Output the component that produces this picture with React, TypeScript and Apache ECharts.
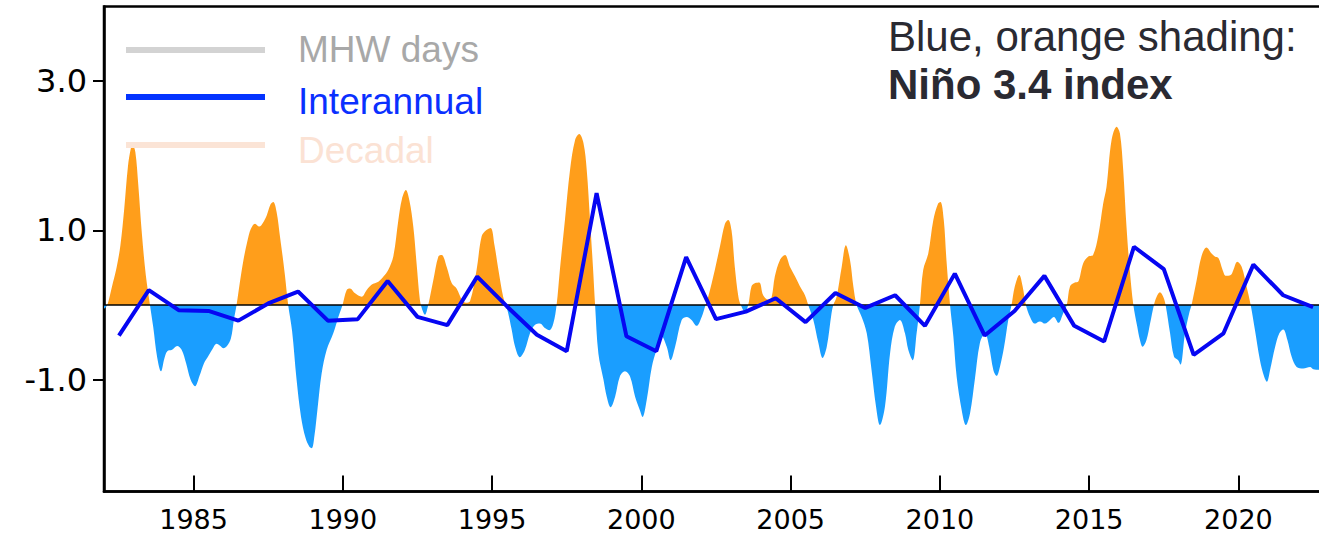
import React, { useEffect, useRef } from "react";
import * as echarts from "echarts";

// Niño 3.4 index, traced as [decimal year, value] vertices
const ninoYears = [
  1982.0, 1982.08, 1982.15, 1982.3, 1982.42, 1982.55, 1982.68, 1982.8, 1982.9, 1982.96,
  1983.05, 1983.15, 1983.27, 1983.4, 1983.54, 1983.65, 1983.78, 1983.91, 1984.02, 1984.12,
  1984.28, 1984.45, 1984.6, 1984.75, 1984.9, 1985.05, 1985.2, 1985.35, 1985.5, 1985.65,
  1985.77, 1985.9, 1986.0, 1986.12, 1986.25, 1986.35, 1986.44, 1986.55, 1986.67, 1986.8,
  1986.92, 1987.06, 1987.2, 1987.32, 1987.45, 1987.58, 1987.67, 1987.78, 1987.9, 1988.0,
  1988.06, 1988.17, 1988.3, 1988.45, 1988.6, 1988.75, 1988.88, 1988.96, 1989.05, 1989.15,
  1989.29, 1989.46, 1989.68, 1989.85, 1989.99, 1990.13, 1990.24, 1990.4, 1990.63, 1990.8,
  1990.96, 1991.19, 1991.36, 1991.52, 1991.69, 1991.86, 1991.98, 1992.11, 1992.23, 1992.36,
  1992.47, 1992.58, 1992.65, 1992.75, 1992.86, 1993.03, 1993.2, 1993.31, 1993.48, 1993.65,
  1993.81, 1994.0, 1994.12, 1994.26, 1994.48, 1994.65, 1994.8, 1994.95, 1995.08, 1995.2,
  1995.37, 1995.46, 1995.54, 1995.65, 1995.77, 1995.93, 1996.1, 1996.27, 1996.43, 1996.6,
  1996.77, 1996.92, 1997.05, 1997.16, 1997.27, 1997.44, 1997.61, 1997.78, 1997.92, 1998.06,
  1998.17, 1998.28, 1998.38, 1998.45, 1998.56, 1998.73, 1998.84, 1998.97, 1999.12, 1999.28,
  1999.45, 1999.62, 1999.79, 1999.95, 2000.04, 2000.18, 2000.35, 2000.51, 2000.68, 2000.85,
  2000.98, 2001.13, 2001.35, 2001.52, 2001.68, 2001.85, 2002.02, 2002.15, 2002.24, 2002.46,
  2002.63, 2002.8, 2002.91, 2003.02, 2003.13, 2003.25, 2003.33, 2003.47, 2003.58, 2003.69,
  2003.8, 2003.95, 2004.08, 2004.25, 2004.36, 2004.47, 2004.64, 2004.81, 2004.98, 2005.15,
  2005.31, 2005.48, 2005.59, 2005.76, 2005.93, 2006.07, 2006.21, 2006.37, 2006.43, 2006.54,
  2006.71, 2006.85, 2006.99, 2007.1, 2007.21, 2007.38, 2007.55, 2007.71, 2007.86, 2007.99,
  2008.16, 2008.33, 2008.49, 2008.66, 2008.83, 2008.94, 2009.09, 2009.22, 2009.33, 2009.44,
  2009.61, 2009.78, 2009.94, 2010.02, 2010.13, 2010.22, 2010.34, 2010.45, 2010.56, 2010.73,
  2010.87, 2011.01, 2011.17, 2011.34, 2011.51, 2011.65, 2011.79, 2011.9, 2012.01, 2012.15,
  2012.29, 2012.4, 2012.51, 2012.66, 2012.77, 2012.88, 2013.02, 2013.18, 2013.35, 2013.52,
  2013.69, 2013.82, 2013.97, 2014.13, 2014.25, 2014.36, 2014.52, 2014.63, 2014.8, 2014.97,
  2015.13, 2015.3, 2015.47, 2015.58, 2015.75, 2015.92, 2016.03, 2016.14, 2016.25, 2016.36,
  2016.48, 2016.61, 2016.7, 2016.79, 2016.92, 2017.04, 2017.17, 2017.26, 2017.37, 2017.48,
  2017.56, 2017.71, 2017.84, 2017.98, 2018.06, 2018.21, 2018.35, 2018.43, 2018.6, 2018.76,
  2018.93, 2019.1, 2019.21, 2019.33, 2019.47, 2019.58, 2019.74, 2019.83, 2019.96, 2020.11,
  2020.27, 2020.41, 2020.55, 2020.72, 2020.86, 2020.95, 2021.06, 2021.23, 2021.37, 2021.5,
  2021.64, 2021.78, 2021.95, 2022.17, 2022.4, 2022.51, 2022.75,
];
const ninoValues = [
  -0.05, -0.02, 0.05, 0.3, 0.5, 0.8, 1.3, 1.85, 2.1, 2.14,
  2.05, 1.6, 0.95, 0.4, 0.0, -0.3, -0.7, -0.89, -0.72, -0.62,
  -0.6, -0.55, -0.6, -0.78, -1.0, -1.09, -0.95, -0.78, -0.68, -0.58,
  -0.52, -0.55, -0.58, -0.55, -0.45, -0.2, 0.0, 0.3, 0.6, 0.85,
  1.02, 1.09, 1.05, 1.1, 1.2, 1.35, 1.38, 1.25, 0.9, 0.6,
  0.4, 0.0, -0.35, -1.0, -1.5, -1.78, -1.9, -1.92, -1.75, -1.4,
  -0.92, -0.6, -0.38, -0.16, 0.0, 0.2, 0.22, 0.16, 0.11, 0.2,
  0.27, 0.31, 0.38, 0.47, 0.65, 1.14, 1.42, 1.54, 1.4, 1.05,
  0.56, 0.07, -0.05, -0.13, 0.0, 0.33, 0.65, 0.67, 0.51, 0.29,
  0.22, 0.06, 0.03, 0.05, 0.47, 0.92, 1.0, 1.03, 0.8, 0.5,
  0.11, 0.0, -0.11, -0.32, -0.56, -0.7, -0.6, -0.38, -0.27, -0.25,
  -0.31, -0.34, -0.25, 0.0, 0.47, 1.14, 1.81, 2.21, 2.29, 2.17,
  1.81, 1.14, 0.5, 0.0, -0.65, -1.0, -1.23, -1.37, -1.23, -0.96,
  -0.89, -0.96, -1.23, -1.41, -1.5, -1.27, -0.83, -0.6, -0.42, -0.56,
  -0.74, -0.56, -0.2, -0.16, -0.2, -0.28, -0.16, 0.0, 0.11, 0.47,
  0.78, 1.09, 1.14, 1.0, 0.51, 0.11, 0.0, -0.09, 0.0, 0.25,
  0.29, 0.3, 0.13, 0.07, 0.1, 0.38, 0.6, 0.67, 0.51, 0.38,
  0.25, 0.13, 0.0, -0.2, -0.51, -0.71, -0.56, -0.11, 0.0, 0.11,
  0.51, 0.8, 0.6, 0.25, 0.0, -0.16, -0.38, -0.87, -1.36, -1.61,
  -1.36, -0.65, -0.29, -0.2, -0.38, -0.6, -0.74, -0.38, 0.0, 0.47,
  0.69, 1.14, 1.36, 1.38, 1.14, 0.6, 0.0, -0.42, -0.96, -1.41,
  -1.61, -1.45, -1.0, -0.51, -0.38, -0.56, -0.87, -0.95, -0.83, -0.56,
  -0.2, 0.0, 0.25, 0.4, 0.25, 0.0, -0.16, -0.25, -0.22, -0.25,
  -0.2, -0.16, -0.24, -0.11, 0.0, 0.25, 0.3, 0.31, 0.56, 0.65,
  0.67, 0.92, 1.36, 1.58, 2.21, 2.39, 2.3, 1.81, 1.05, 0.47,
  0.0, -0.29, -0.47, -0.56, -0.47, -0.25, 0.0, 0.11, 0.17, 0.11,
  0.0, -0.38, -0.69, -0.74, -0.8, -0.38, -0.11, 0.0, 0.33, 0.65,
  0.77, 0.69, 0.65, 0.63, 0.47, 0.39, 0.4, 0.47, 0.58, 0.51,
  0.25, 0.0, -0.33, -0.74, -0.96, -1.03, -0.87, -0.56, -0.38, -0.33,
  -0.47, -0.69, -0.83, -0.85, -0.83, -0.86, -0.87,
];

// Interannual component, one value per year (plotted at mid-year)
const interannualYears = [
  1982, 1983, 1984, 1985, 1986, 1987, 1988, 1989, 1990, 1991,
  1992, 1993, 1994, 1995, 1996, 1997, 1998, 1999, 2000, 2001,
  2002, 2003, 2004, 2005, 2006, 2007, 2008, 2009, 2010, 2011,
  2012, 2013, 2014, 2015, 2016, 2017, 2018, 2019, 2020, 2021,
  2022,
];
const interannualValues = [
  -0.41, 0.2, -0.07, -0.08, -0.21, 0.02, 0.18, -0.21, -0.19, 0.32,
  -0.16, -0.27, 0.38, -0.02, -0.4, -0.62, 1.5, -0.42, -0.62, 0.64,
  -0.19, -0.09, 0.09, -0.23, 0.16, -0.04, 0.13, -0.28, 0.42, -0.41,
  -0.08, 0.39, -0.28, -0.49, 0.78, 0.48, -0.67, -0.38, 0.54, 0.13,
  -0.03,
];

const xTickYears = [1985, 1990, 1995, 2000, 2005, 2010, 2015, 2020];
const yTickValues = [-1, 1, 3];

const legendItems = [
  { name: "MHW days", line: "#d3d3d3", text: "#a8a8a8" },
  { name: "Interannual", line: "#0433ff", text: "#0a30ff" },
  { name: "Decadal", line: "#fbe4d6", text: "#fbe2d4" },
];

const TEXT_FONT = '"Liberation Sans", Arial, sans-serif';
const TICK_FONT = '"DejaVu Sans", sans-serif';

export default function App() {
  const ref = useRef<HTMLDivElement>(null);

  useEffect(() => {
    if (!ref.current) return;
    const chart = echarts.init(ref.current, null, { renderer: "svg" });

    const ninoData = ninoYears.map((y, i) => [y, ninoValues[i]]);
    const interData = interannualYears.map((y, i) => [y + 0.5, interannualValues[i]]);

    const legendRowY = [50, 97, 145];
    const legendTextY = [49, 101, 150];

    const graphics: any[] = [];
    legendItems.forEach((item, i) => {
      graphics.push({
        type: "line",
        shape: { x1: 126, y1: legendRowY[i], x2: 265, y2: legendRowY[i] },
        style: { stroke: item.line, lineWidth: 6 },
        z: 10,
      });
      graphics.push({
        type: "text",
        x: 298,
        y: legendTextY[i],
        style: {
          text: item.name,
          fill: item.text,
          fontSize: 37,
          fontFamily: TEXT_FONT,
          align: "left",
          verticalAlign: "middle",
        },
        z: 10,
      });
    });
    graphics.push({
      type: "text",
      x: 888,
      y: 36,
      style: {
        text: "Blue, orange shading:",
        fill: "#2a2a32",
        fontSize: 42,
        fontFamily: TEXT_FONT,
        align: "left",
        verticalAlign: "middle",
      },
      z: 10,
    });
    graphics.push({
      type: "text",
      x: 888,
      y: 84,
      style: {
        text: "Niño 3.4 index",
        fill: "#2a2a32",
        fontSize: 42,
        fontWeight: "bold",
        fontFamily: TEXT_FONT,
        align: "left",
        verticalAlign: "middle",
      },
      z: 10,
    });

    chart.setOption({
      animation: false,
      backgroundColor: "#ffffff",
      grid: {
        left: 104,
        right: 12,
        top: 6.5,
        bottom: 42.5,
        show: true,
        borderColor: "#000",
        borderWidth: 2.5,
        backgroundColor: "transparent",
      },
      xAxis: {
        type: "value",
        min: 1982,
        max: 2023,
        axisLine: { show: true, onZero: false, lineStyle: { color: "#000", width: 2.5 } },
        axisTick: {
          show: true,
          inside: true,
          length: 16,
          customValues: xTickYears,
          lineStyle: { color: "#000", width: 2 },
        },
        axisLabel: {
          customValues: xTickYears,
          formatter: (v: number) => String(v),
          color: "#000",
          fontSize: 27,
          fontFamily: TICK_FONT,
          margin: 14,
        },
        splitLine: { show: false },
      },
      yAxis: {
        type: "value",
        min: -2.5,
        max: 4,
        axisLine: { show: true, onZero: false, lineStyle: { color: "#000", width: 2.5 } },
        axisTick: {
          show: true,
          length: 11,
          customValues: yTickValues,
          lineStyle: { color: "#000", width: 2 },
        },
        axisLabel: {
          customValues: yTickValues,
          formatter: (v: number) => v.toFixed(1),
          color: "#000",
          fontSize: 32,
          fontFamily: TICK_FONT,
          margin: 17,
        },
        splitLine: { show: false },
      },
      visualMap: {
        type: "piecewise",
        show: false,
        seriesIndex: 0,
        dimension: 1,
        pieces: [
          { gte: -10, lt: 0, color: "#1a9eff" },
          { gte: 0, lte: 10, color: "#ff9e1b" },
        ],
        outOfRange: { color: "#1a9eff" },
      },
      series: [
        {
          name: "Niño 3.4",
          type: "line",
          data: ninoData,
          showSymbol: false,
          smooth: 0.35,
          lineStyle: { width: 0 },
          areaStyle: { opacity: 1 },
          z: 1,
          silent: true,
        },
        {
          name: "Interannual",
          type: "line",
          data: interData,
          showSymbol: false,
          lineStyle: { color: "#0606f2", width: 4 },
          itemStyle: { color: "#0606f2" },
          z: 3,
          markLine: {
            silent: true,
            symbol: "none",
            label: { show: false },
            lineStyle: { color: "#000", width: 1.5, type: "solid" },
            data: [{ yAxis: 0 }],
            z: 2,
          },
        },
      ],
      graphic: graphics,
    });

    return () => chart.dispose();
  }, []);

  return (
    <div
      style={{
        position: "fixed",
        left: 0,
        top: 0,
        width: 1319,
        height: 534,
        overflow: "hidden",
        background: "#fff",
      }}
    >
      <div ref={ref} style={{ width: 1340, height: 534 }} />
    </div>
  );
}
